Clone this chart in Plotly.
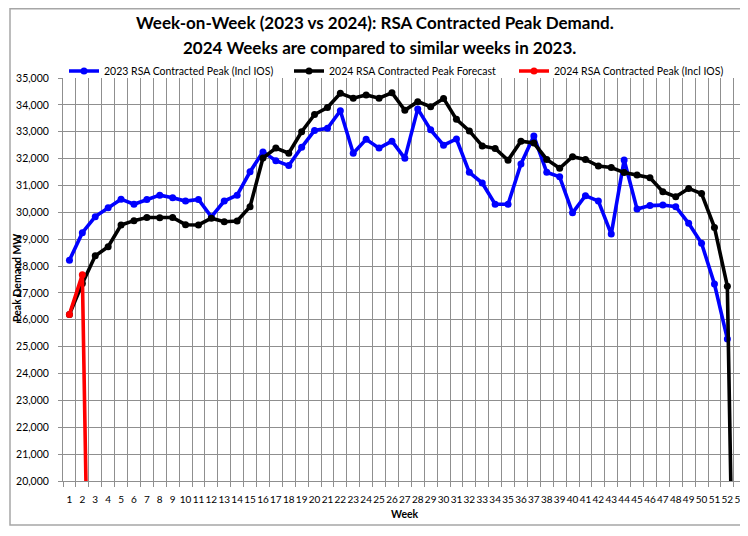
import plotly.graph_objects as go

# ---------------- data ----------------
weeks = list(range(1, 54))
week_labels = [str(w) for w in weeks]

weeks_2023 = list(range(1, 53))
rsa_2023_peak = [
    28220, 29240, 29840, 30170, 30490, 30300, 30480, 30640, 30540, 30420,
    30480, 29830, 30420, 30640, 31510, 32250, 31920, 31740, 32420, 33050,
    33130, 33780, 32200, 32720, 32390, 32650, 32010, 33850, 33070, 32500,
    32730, 31490, 31090, 30300, 30300, 31800, 32840, 31490, 31320, 29980,
    30620, 30420, 29190, 31950, 30120, 30250, 30270, 30210, 29590, 28850,
    27330, 25290,
]

weeks_forecast = list(range(1, 54))
forecast_2024 = [
    26200, 27350, 28380, 28720, 29530, 29690, 29810, 29800, 29810, 29540,
    29530, 29780, 29650, 29680, 30210, 32020, 32390, 32200, 33000, 33640,
    33900, 34430, 34250, 34370, 34250, 34450, 33800, 34120, 33930, 34240,
    33460, 33030, 32470, 32380, 31940, 32650, 32580, 31970, 31640, 32070,
    31970, 31720, 31670, 31480, 31390, 31290, 30770, 30580, 30890, 30700,
    29440, 27250, 0,
]

weeks_actual = [1, 2, 3]
actual_2024 = [26200, 27680, 0]

y_ticks = list(range(20000, 35001, 1000))
y_tick_labels = [f"{v:,}" for v in y_ticks]

names = [
    "2023 RSA Contracted Peak (Incl IOS)",
    "2024 RSA Contracted Peak Forecast",
    "2024 RSA Contracted Peak (Incl IOS)",
]
title_lines = [
    "Week-on-Week (2023 vs 2024): RSA Contracted Peak Demand.",
    "2024 Weeks are compared to similar weeks in 2023.",
]

# ---------------- figure ----------------
FONT = "Lato"
OFF = 8                      # page body margin offset
PAGE_W, PAGE_H = 748, 536
W, H = PAGE_W - OFF, PAGE_H - 2 * OFF
# plot area in page pixels: x 63..748, y 78..481
ML, MR = 63 - OFF, 0
MT, MB = 78 - OFF, H - (481 - OFF)
PW, PH = W - ML - MR, H - MT - MB
CAT_PX = 12.9
GRID = "#8f8f8f"

fig = go.Figure()
for xs, ys, name, col in [
    (weeks_2023, rsa_2023_peak, names[0], "#0000FF"),
    (weeks_forecast, forecast_2024, names[1], "#000000"),
    (weeks_actual, actual_2024, names[2], "#FF0000"),
]:
    fig.add_trace(go.Scatter(
        x=xs, y=ys, name=name, mode="lines+markers",
        line=dict(color=col, width=3.6),
        marker=dict(color=col, size=7, symbol="circle"),
    ))

boundaries = [w - 0.5 for w in weeks] + [weeks[-1] + 0.5]

fig.update_xaxes(
    range=[0.5, 0.5 + PW / CAT_PX],
    tickmode="array", tickvals=weeks, ticktext=week_labels,
    tickangle=0, automargin=False, ticklabeloverflow="allow",
    showgrid=False, ticks="",
    minor=dict(tickmode="array", tickvals=boundaries, ticks="outside",
               ticklen=5, tickcolor=GRID, showgrid=True,
               gridcolor=GRID, gridwidth=1),
    showline=True, linecolor=GRID, linewidth=1,
    tickfont=dict(family=FONT, size=10, color="#000000"),
    ticklabelstandoff=9,
    zeroline=False,
)
fig.update_yaxes(
    range=[y_ticks[0], y_ticks[-1]],
    tickmode="array", tickvals=y_ticks, ticktext=y_tick_labels,
    automargin=False,
    ticks="outside", ticklen=4, tickcolor=GRID,
    showgrid=True, gridcolor=GRID, gridwidth=1,
    showline=True, linecolor=GRID, linewidth=1,
    tickfont=dict(family=FONT, size=10.5, color="#000000"),
    ticklabelstandoff=7,
    zeroline=False,
)


def ypap(page_y):
    return (H - MB - (page_y - OFF)) / PH


def xpap(page_x):
    return ((page_x - OFF) - ML) / PW


annotations = [
    dict(text=f"<b>{title_lines[0]}</b>", x=xpap(375), y=ypap(23)),
    dict(text=f"<b>{title_lines[1]}</b>", x=xpap(379), y=ypap(47)),
]
annotations = [dict(a, xref="paper", yref="paper", xanchor="center",
                    yanchor="middle", showarrow=False,
                    font=dict(family=FONT, size=17, color="#000000"))
               for a in annotations]
annotations.append(dict(text="<b>Week</b>", x=xpap(405), y=ypap(514),
                        xref="paper", yref="paper", xanchor="center",
                        yanchor="middle", showarrow=False,
                        font=dict(family=FONT, size=10.5, color="#000000")))
annotations.append(dict(text="<b>Peak Demand MW</b>", x=xpap(17), y=ypap(278),
                        xref="paper", yref="paper", xanchor="center",
                        yanchor="middle", showarrow=False, textangle=-90,
                        font=dict(family=FONT, size=10.5, color="#000000")))

# chart frame (page px: left 10, top 8, bottom 525, right beyond edge)
frame_left, frame_top, frame_bottom = 10 - OFF, 8.75 - OFF, 525 - OFF
shapes = [
    dict(type="rect", xref="paper", yref="paper",
         xsizemode="pixel", ysizemode="pixel", xanchor=0, yanchor=0,
         x0=frame_left - ML, x1=W + 20 - ML,
         y0=(H - MB) - frame_bottom, y1=(H - MB) - frame_top,
         line=dict(color="#a6a6a6", width=1.5), layer="below"),
]

fig.update_layout(
    width=W, height=H, autosize=False,
    margin=dict(l=ML, r=MR, t=MT, b=MB, pad=0),
    plot_bgcolor="#FFFFFF", paper_bgcolor="#FFFFFF",
    font=dict(family=FONT, color="#000000"),
    showlegend=True,
    legend=dict(orientation="h", x=xpap(64), xanchor="left",
                y=ypap(71), yanchor="middle",
                font=dict(family=FONT, size=10.5, color="#000000"),
                bgcolor="rgba(0,0,0,0)", itemwidth=30,
                entrywidth=180, entrywidthmode="pixels",
                traceorder="normal", tracegroupgap=0),
    annotations=annotations,
    shapes=shapes,
)

fig.write_html("out.html")
